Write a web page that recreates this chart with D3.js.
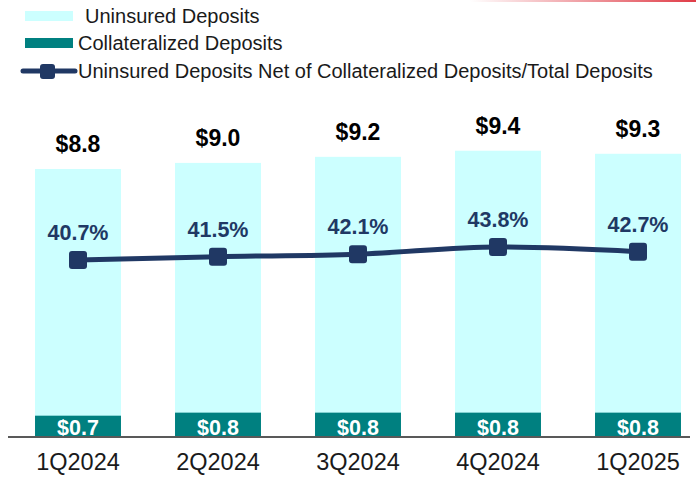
<!DOCTYPE html>
<html>
<head>
<meta charset="utf-8">
<script src="https://cdn.jsdelivr.net/npm/d3@7"></script>
<style>
  body { margin: 0; background: #fff; }
  svg { display: block; font-family: Arial, "Liberation Sans", sans-serif; }
</style>
</head>
<body>
<div id="vis1"></div>
<script>
// setting constants
const FRAME_WIDTH = 696;
const FRAME_HEIGHT = 478;
const BASE_Y = 437;

// data ($ billions, %)
const quarters = ["1Q2024", "2Q2024", "3Q2024", "4Q2024", "1Q2025"];
const uninsured = [8.8, 9.0, 9.2, 9.4, 9.3];
const collateralized = [0.7, 0.8, 0.8, 0.8, 0.8];
const netPct = [40.7, 41.5, 42.1, 43.8, 42.7];
const legendLabels = ["Uninsured Deposits", "Collateralized Deposits",
  "Uninsured Deposits Net of Collateralized Deposits/Total Deposits"];

const CYAN = "#ccffff";
const TEAL = "#008080";
const NAVY = "#203864";

const FRAME = d3.select("#vis1")
  .append("svg")
  .attr("width", FRAME_WIDTH)
  .attr("height", FRAME_HEIGHT);

// red accent line at top right
const grad = FRAME.append("defs").append("linearGradient")
  .attr("id", "redfade");
grad.append("stop").attr("offset", "0%").attr("stop-color", "#e03c47").attr("stop-opacity", 0);
grad.append("stop").attr("offset", "100%").attr("stop-color", "#e03c47").attr("stop-opacity", 1);
FRAME.append("rect")
  .attr("x", 470).attr("y", 0).attr("width", 226).attr("height", 2)
  .attr("fill", "url(#redfade)");

// scales
const X_SCALE = d3.scaleBand()
  .domain(quarters)
  .range([8, 708])
  .paddingInner(0.386)
  .paddingOuter(0.193);

const Y_SCALE = d3.scaleLinear()
  .domain([0, 14.35])
  .range([BASE_Y, 0]);

const P_SCALE = d3.scaleLinear()
  .domain([0, 100])
  .range([431, 11]);

// uninsured bars (full height)
FRAME.selectAll(".bar")
  .data(uninsured)
  .enter()
  .append("rect")
    .attr("x", (d, i) => X_SCALE(quarters[i]))
    .attr("y", (d) => Y_SCALE(d))
    .attr("width", X_SCALE.bandwidth())
    .attr("height", (d) => BASE_Y - Y_SCALE(d))
    .attr("fill", CYAN);

// collateralized segment at the bottom
FRAME.selectAll(".coll")
  .data(collateralized)
  .enter()
  .append("rect")
    .attr("x", (d, i) => X_SCALE(quarters[i]))
    .attr("y", (d) => Y_SCALE(d))
    .attr("width", X_SCALE.bandwidth())
    .attr("height", (d) => BASE_Y - Y_SCALE(d))
    .attr("fill", TEAL);

FRAME.selectAll(".collLabel")
  .data(collateralized)
  .enter()
  .append("text")
    .attr("x", (d, i) => X_SCALE(quarters[i]) + X_SCALE.bandwidth() / 2)
    .attr("y", BASE_Y - 2)
    .attr("text-anchor", "middle")
    .attr("font-size", "21.5px")
    .attr("font-weight", "bold")
    .attr("fill", "#fff")
    .text((d) => "$" + d.toFixed(1));

// totals above bars
FRAME.selectAll(".total")
  .data(uninsured)
  .enter()
  .append("text")
    .attr("x", (d, i) => X_SCALE(quarters[i]) + X_SCALE.bandwidth() / 2)
    .attr("y", (d) => Y_SCALE(d) - 17)
    .attr("text-anchor", "middle")
    .attr("font-size", "23px")
    .attr("font-weight", "bold")
    .attr("fill", "#000")
    .text((d) => "$" + d.toFixed(1));

// x axis
const xAxis = FRAME.append("g")
  .attr("transform", "translate(0," + BASE_Y + ")")
  .call(d3.axisBottom(X_SCALE).tickSize(0).tickPadding(16));
xAxis.select(".domain").remove();
xAxis.selectAll("text")
  .attr("font-size", "23.5px")
  .attr("font-family", "Arial, 'Liberation Sans', sans-serif")
  .attr("fill", "#1a1a1a");
FRAME.append("line")
  .attr("x1", 8).attr("x2", 690)
  .attr("y1", BASE_Y).attr("y2", BASE_Y)
  .attr("stroke", "#595959")
  .attr("stroke-width", 2);

// ratio line
const cx = (i) => X_SCALE(quarters[i]) + X_SCALE.bandwidth() / 2;
const line = d3.line()
  .x((d, i) => cx(i))
  .y((d) => P_SCALE(d))
  .curve(d3.curveMonotoneX);

FRAME.append("path")
  .datum(netPct)
  .attr("d", line)
  .attr("fill", "none")
  .attr("stroke", NAVY)
  .attr("stroke-width", 5);

FRAME.selectAll(".marker")
  .data(netPct)
  .enter()
  .append("rect")
    .attr("x", (d, i) => cx(i) - 9)
    .attr("y", (d) => P_SCALE(d) - 9)
    .attr("width", 18)
    .attr("height", 18)
    .attr("rx", 3)
    .attr("fill", NAVY);

FRAME.selectAll(".pctLabel")
  .data(netPct)
  .enter()
  .append("text")
    .attr("x", (d, i) => cx(i))
    .attr("y", (d) => P_SCALE(d) - 20)
    .attr("text-anchor", "middle")
    .attr("font-size", "21.5px")
    .attr("font-weight", "bold")
    .attr("fill", NAVY)
    .text((d) => d.toFixed(1) + "%");

// legend
const LEG = FRAME.append("g");
LEG.append("rect").attr("x", 25).attr("y", 11).attr("width", 48).attr("height", 10).attr("fill", CYAN);
LEG.append("rect").attr("x", 25).attr("y", 38).attr("width", 48).attr("height", 10).attr("fill", TEAL);
LEG.append("line").attr("x1", 23).attr("x2", 75).attr("y1", 71).attr("y2", 71)
  .attr("stroke", NAVY).attr("stroke-width", 5).attr("stroke-linecap", "round");
LEG.append("rect").attr("x", 40).attr("y", 64).attr("width", 15).attr("height", 15)
  .attr("rx", 3).attr("fill", NAVY);

LEG.selectAll(".legText")
  .data(legendLabels)
  .enter()
  .append("text")
    .attr("x", (d, i) => i === 0 ? 85 : 78)
    .attr("y", (d, i) => [16, 43, 71][i])
    .attr("dy", "0.35em")
    .attr("font-size", "20px")
    .attr("fill", "#1a1a1a")
    .text((d) => d);
</script>
</body>
</html>
